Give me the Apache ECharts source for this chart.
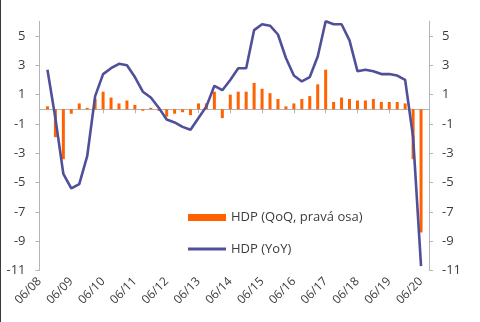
<!DOCTYPE html>
<html>
<head>
<meta charset="utf-8">
<script src="https://cdn.jsdelivr.net/npm/echarts@6/dist/echarts.min.js"></script>
<style>
html,body{margin:0;padding:0;background:#fff;}
#c{position:absolute;left:0;top:0;width:480px;height:322px;}
#edge{position:absolute;left:0;top:0;width:1px;height:322px;background:#3a3a3a;}
</style>
</head>
<body>
<div id="c"></div>
<div id="edge"></div>
<script>
// Quarters from 06/08 (Q2 2008) to 09/20 (Q3 2020)
const categories = [
  "06/08","09/08","12/08","03/09","06/09","09/09","12/09","03/10",
  "06/10","09/10","12/10","03/11","06/11","09/11","12/11","03/12",
  "06/12","09/12","12/12","03/13","06/13","09/13","12/13","03/14",
  "06/14","09/14","12/14","03/15","06/15","09/15","12/15","03/16",
  "06/16","09/16","12/16","03/17","06/17","09/17","12/17","03/18",
  "06/18","09/18","12/18","03/19","06/19","09/19","12/19","03/20",
  "06/20","09/20"
];
// GDP QoQ (%), right axis
const qoq = [
  null, 0.2, -1.9, -3.4, -0.3, 0.4, 0.1, 0.7,
  1.2, 0.8, 0.4, 0.6, 0.3, -0.1, 0.1, -0.1,
  -0.5, -0.3, -0.2, -0.4, 0.4, 0.4, 1.2, -0.6,
  1.0, 1.2, 1.2, 1.8, 1.4, 1.1, 0.7, 0.2,
  0.4, 0.7, 0.9, 1.7, 2.7, 0.5, 0.8, 0.7,
  0.6, 0.6, 0.7, 0.5, 0.5, 0.5, 0.4, -3.4,
  -8.4, null
];
// GDP YoY (%), left axis
const yoy = [
  null, 2.7, -0.6, -4.4, -5.4, -5.1, -3.2, 0.9,
  2.4, 2.8, 3.1, 3.0, 2.2, 1.2, 0.8, 0.1,
  -0.7, -0.9, -1.2, -1.4, -0.6, 0.2, 1.6, 1.3,
  2.0, 2.8, 2.8, 5.4, 5.8, 5.7, 5.1, 3.5,
  2.3, 1.9, 2.2, 3.6, 6.0, 5.8, 5.8, 4.7,
  2.6, 2.7, 2.6, 2.4, 2.4, 2.3, 2.0, -1.9,
  -10.7, null
];
const yTicks = [-11, -9, -7, -5, -3, -1, 1, 3, 5];
const seriesNames = ["HDP (QoQ, pravá osa)", "HDP (YoY)"];

const axisGray = '#b4b4b4';
const textCol = '#3c3c3c';
const fam = "'Open Sans', 'Noto Sans', sans-serif";
const orange = '#ff6200';
const indigo = '#50509a';

const chart = echarts.init(document.getElementById('c'), null, {renderer: 'canvas'});
const yAxisBase = (pos, margin, tickLen) => ({
  type: 'value', position: pos, min: -11, max: 6,
  splitLine: {show: false},
  axisLine: {show: true, lineStyle: {color: axisGray, width: 1}},
  axisTick: {show: true, length: tickLen, lineStyle: {color: axisGray}, customValues: yTicks},
  axisLabel: {customValues: yTicks, margin: margin, fontSize: 13, color: textCol, fontFamily: fam,
              formatter: v => String(v)}
});
chart.setOption({
  animation: false,
  grid: {left: 39.5, right: 51, top: 21.3, bottom: 51.4, containLabel: false},
  legend: [
    {data: [{name: seriesNames[0], icon: 'rect'}], orient: 'vertical', left: 183, top: 206,
     itemWidth: 38, itemHeight: 7, textStyle: {fontSize: 13, color: textCol, fontFamily: fam}},
    {data: [{name: seriesNames[1], icon: 'rect', itemStyle: {color: indigo}}], orient: 'vertical', left: 183, top: 237.5,
     itemWidth: 38, itemHeight: 3, textStyle: {fontSize: 13, color: textCol, fontFamily: fam}}
  ],
  xAxis: [
    {type: 'category', data: categories, position: 'bottom', boundaryGap: false,
     axisLine: {show: false, onZero: false}, axisTick: {show: false},
     axisLabel: {interval: 3, rotate: 45, margin: 9, fontSize: 12, color: textCol, fontFamily: fam}},
    {type: 'category', data: categories, position: 'bottom', boundaryGap: false,
     axisLine: {show: true, onZero: true, lineStyle: {color: axisGray, width: 1}},
     axisTick: {show: true, interval: 3, length: 4, lineStyle: {color: axisGray}},
     axisLabel: {show: false}}
  ],
  yAxis: [yAxisBase('left', 14, 4), yAxisBase('right', 13, 4)],
  series: [
    {name: seriesNames[0], type: 'bar', data: qoq, xAxisIndex: 0, yAxisIndex: 1,
     barWidth: 3, itemStyle: {color: orange}, z: 2},
    {name: seriesNames[1], type: 'line', data: yoy, xAxisIndex: 0, yAxisIndex: 0,
     symbol: 'none', showSymbol: false, connectNulls: false,
     lineStyle: {color: indigo, width: 2.6}, itemStyle: {color: indigo}, z: 3}
  ]
});
</script>
</body>
</html>
